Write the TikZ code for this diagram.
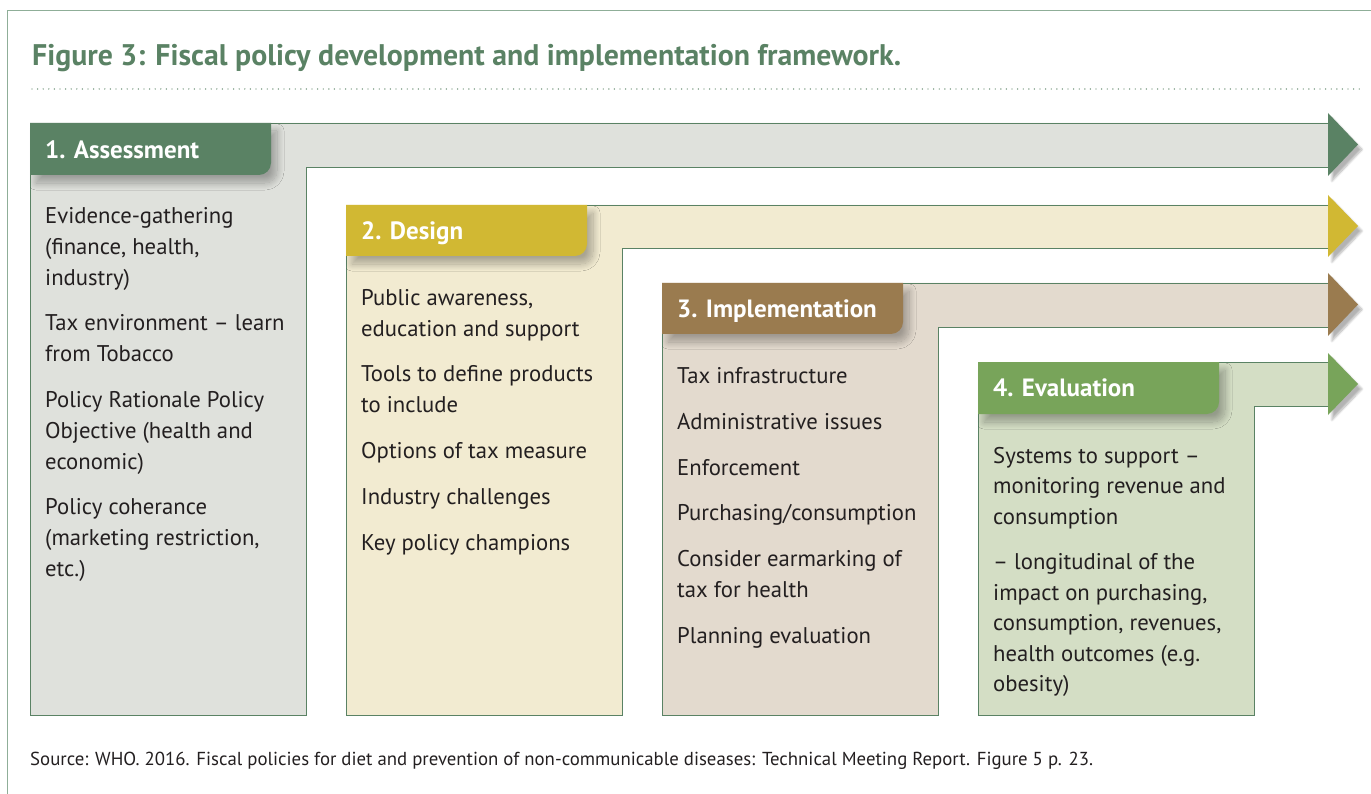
\documentclass[tikz,border=0pt]{standalone}
\usepackage{fontspec}
\setmainfont{PT Sans}
\usepackage{xcolor}
\usepackage{tikz}
\usetikzlibrary{shadows.blur}

\definecolor{leafgreen}{HTML}{5A8264}
\definecolor{framegrey}{HTML}{8FAE98}
\definecolor{inkblack}{HTML}{231F20}
\definecolor{assessfill}{HTML}{DFE1DC}
\definecolor{designtab}{HTML}{D1B833}
\definecolor{designfill}{HTML}{F2EBD1}
\definecolor{impltab}{HTML}{9A7B4F}
\definecolor{implfill}{HTML}{E3DACE}
\definecolor{evaltab}{HTML}{78A45A}
\definecolor{evalfill}{HTML}{D4DEC5}

\begin{document}
\begin{tikzpicture}[x=1pt,y=-1pt,
    band/.style={draw=leafgreen, line width=0.8pt},
    tabshape/.style={blur shadow={shadow xshift=6pt, shadow yshift=-8pt, shadow blur steps=14, shadow blur radius=7pt, shadow opacity=30}},
    arrowhd/.style={blur shadow={shadow xshift=4pt, shadow yshift=-5pt, shadow blur steps=10, shadow opacity=30}},
    head/.style={anchor=base west, inner sep=0pt, text=white, font=\fontsize{25}{28}\selectfont\bfseries},
    body/.style={anchor=north west, inner sep=0pt, align=left, text=inkblack, font=\fontsize{22.7}{31}\selectfont}]
    \useasboundingbox (0,0) rectangle (1371,794);

    % frame and title
    \draw [framegrey, line width=1pt] (1371,11) -- (7,11) -- (7,794);
    \node [anchor=base west, inner sep=0pt, text=leafgreen, font=\fontsize{29.8}{32}\selectfont\bfseries] (title) at (32,66)
        {Figure 3: Fiscal policy development and implementation framework.};
    \draw [leafgreen, line width=1.4pt, line cap=round, dash pattern=on 0pt off 5.6pt] (32,89) -- (1362,89);

    % 1. Assessment
    \draw [band, fill=assessfill] (30,123) -- (1328,123) -- (1328,167) -- (306,167) -- (306,715) -- (30,715) -- cycle;
    \fill [arrowhd, fill=leafgreen] (1328,113) -- (1358,144.5) -- (1328,176) -- cycle;
    \fill [tabshape, fill=leafgreen] (30,123) -- (271,123) -- (271,163) .. controls (271,169.6) and (265.6,175) .. (259,175) -- (30,175) -- cycle;
    \node [head] (assess) at (45,158.5) {1. Assessment};
    \node [body] (assesstxt) at (45,207) {Evidence-gathering\\(finance, health,\\industry)\\[14pt]
        Tax environment -- learn\\from Tobacco\\[15pt]
        Policy Rationale Policy\\Objective (health and\\economic)\\[14pt]
        Policy coherance\\(marketing restriction,\\etc.)};

    % 2. Design
    \draw [band, fill=designfill] (346,205) -- (1328,205) -- (1328,248) -- (622,248) -- (622,715) -- (346,715) -- cycle;
    \fill [arrowhd, fill=designtab] (1328,195) -- (1358,226) -- (1328,257) -- cycle;
    \fill [tabshape, fill=designtab] (346,205) -- (587,205) -- (587,244) .. controls (587,250.6) and (581.6,256) .. (575,256) -- (346,256) -- cycle;
    \node [head] (design) at (361,239.5) {2. Design};
    \node [body] (designtxt) at (361,289) {Public awareness,\\education and support\\[14pt]
        Tools to define products\\to include\\[15pt]
        Options of tax measure\\[15pt]
        Industry challenges\\[15pt]
        Key policy champions};

    % 3. Implementation
    \draw [band, fill=implfill] (662,283) -- (1328,283) -- (1328,327) -- (938,327) -- (938,715) -- (662,715) -- cycle;
    \fill [arrowhd, fill=impltab] (1328,273) -- (1358,304.5) -- (1328,336) -- cycle;
    \fill [tabshape, fill=impltab] (662,283) -- (903,283) -- (903,322) .. controls (903,328.6) and (897.6,334) .. (891,334) -- (662,334) -- cycle;
    \node [head] (impl) at (677,317.5) {3. Implementation};
    \node [body] (impltxt) at (677,367) {Tax infrastructure\\[15pt]
        Administrative issues\\[15pt]
        Enforcement\\[14pt]
        Purchasing/consumption\\[15pt]
        Consider earmarking of\\tax for health\\[15pt]
        Planning evaluation};

    % 4. Evaluation
    \draw [band, fill=evalfill] (978,362) -- (1328,362) -- (1328,406) -- (1254,406) -- (1254,715) -- (978,715) -- cycle;
    \fill [arrowhd, fill=evaltab] (1328,353) -- (1358,384) -- (1328,415) -- cycle;
    \fill [tabshape, fill=evaltab] (978,362) -- (1219,362) -- (1219,402) .. controls (1219,408.6) and (1213.6,414) .. (1207,414) -- (978,414) -- cycle;
    \node [head] (eval) at (993,396.5) {4. Evaluation};
    \node [body, font=\fontsize{22.7}{30.5}\selectfont] (evaltxt) at (993,447) {Systems to support --\\monitoring revenue and\\consumption\\[15pt]
        -- longitudinal of the\\impact on purchasing,\\consumption, revenues,\\health outcomes (e.g.\\obesity)};

    % source line
    \node [anchor=base west, inner sep=0pt, text=inkblack, font=\fontsize{18.8}{21}\selectfont] (src) at (30,765)
        {Source: WHO. 2016. Fiscal policies for diet and prevention of non-communicable diseases: Technical Meeting Report. Figure 5 p. 23.};
\end{tikzpicture}
\end{document}
